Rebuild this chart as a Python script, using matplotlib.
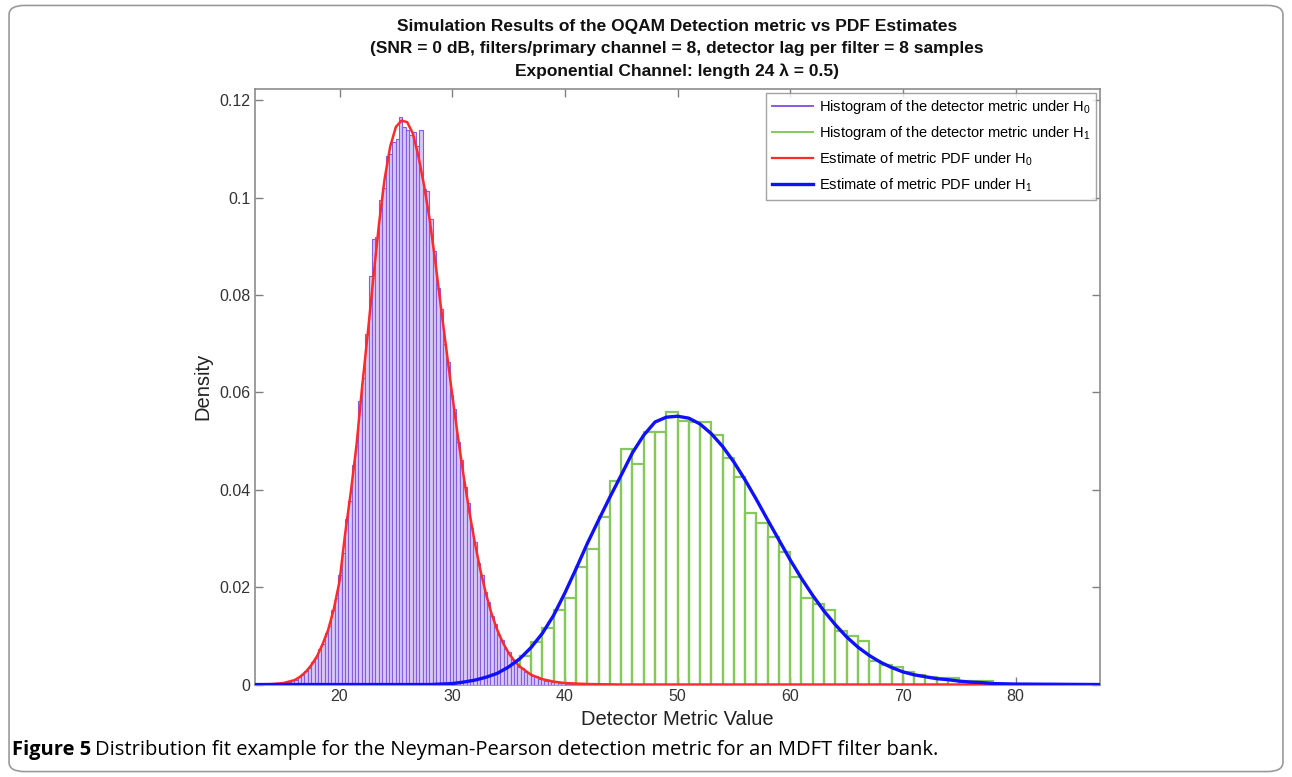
import matplotlib.pyplot as plt
from matplotlib.patches import FancyBboxPatch
from matplotlib.lines import Line2D
import numpy as np

# Histogramme H0 (bins de 0.3)
h0_start, h0_width = 14.78, 0.3
h0_heights = [0.0002, 0.0004, 0.0005, 0.0009, 0.0010, 0.0016, 0.0019, 0.0028, 0.0033, 0.0047,
              0.0054, 0.0072, 0.0083, 0.0106, 0.0121, 0.0154, 0.0178, 0.0224, 0.0270, 0.0340,
              0.0376, 0.0450, 0.0489, 0.0582, 0.0630, 0.0720, 0.0839, 0.0914, 0.0920, 0.0996,
              0.1020, 0.1085, 0.1090, 0.1114, 0.1120, 0.1165, 0.1145, 0.1138, 0.1128, 0.1134,
              0.1105, 0.1138, 0.1017, 0.1013, 0.0955, 0.0890, 0.0815, 0.0772, 0.0700, 0.0662,
              0.0595, 0.0565, 0.0498, 0.0462, 0.0405, 0.0372, 0.0322, 0.0292, 0.0250, 0.0224,
              0.0189, 0.0170, 0.0140, 0.0125, 0.0102, 0.0092, 0.0074, 0.0066, 0.0052, 0.0047,
              0.0037, 0.0034, 0.0026, 0.0024, 0.0018, 0.0017, 0.0012, 0.0011, 0.0008, 0.0008,
              0.0005, 0.0005, 0.0003, 0.0004, 0.0002, 0.0002, 0.0001]

# Histogramme H1 (bins de 1)
h1_start, h1_width = 29, 1.0
h1_heights = [0.0002, 0.0003, 0.0005, 0.0008, 0.0013, 0.0022, 0.0038, 0.0058,
              0.0087, 0.0116, 0.0154, 0.0177, 0.0241, 0.0278, 0.0344, 0.0418,
              0.0483, 0.0452, 0.0518, 0.0518, 0.0560, 0.0541, 0.0539, 0.0539,
              0.0513, 0.0466, 0.0426, 0.0352, 0.0332, 0.0302, 0.0272, 0.0221,
              0.0177, 0.0166, 0.0154, 0.0110, 0.0099, 0.0089, 0.0049, 0.0040,
              0.0036, 0.0026, 0.0019, 0.0016, 0.0014, 0.0014, 0.0008, 0.0008,
              0.0008]

# Estimation de la PDF sous H0
pdf0_x = [12.5, 14.0, 15.0, 16.0, 16.5, 17.0, 17.5, 18.0, 18.5, 19.0, 19.5, 20.0,
          20.5, 21.0, 21.5, 22.0, 22.5, 23.0, 23.5, 24.0, 24.5, 25.0, 25.5, 26.0,
          26.5, 27.0, 27.5, 28.0, 28.5, 29.0, 29.5, 30.0, 30.5, 31.0, 31.5, 32.0,
          32.5, 33.0, 33.5, 34.0, 34.5, 35.0, 35.5, 36.0, 37.0, 38.0, 39.0, 40.0,
          42.0, 45.0, 87.5]
pdf0_y = [0, 0.0001, 0.0003, 0.0009, 0.0016, 0.0026, 0.0040, 0.0058, 0.0083,
          0.0113, 0.0156, 0.0212, 0.0310, 0.0395, 0.0490, 0.0610, 0.0720, 0.0835,
          0.0945, 0.1038, 0.1105, 0.1145, 0.1158, 0.1155, 0.1132, 0.1085, 0.1025,
          0.0955, 0.0868, 0.0775, 0.0685, 0.0595, 0.0510, 0.0430, 0.0358, 0.0292,
          0.0235, 0.0186, 0.0145, 0.0112, 0.0086, 0.0065, 0.0049, 0.0037, 0.0020,
          0.0011, 0.0006, 0.0003, 0.0001, 0, 0]

# Estimation de la PDF sous H1
pdf1_x = [12.5, 28, 30, 31, 32, 33, 34, 35, 36, 37, 38, 39, 40, 41, 42, 43, 44,
          45, 46, 47, 48, 49, 50, 51, 52, 53, 54, 55, 56, 57, 58, 59, 60, 61, 62,
          63, 64, 65, 66, 67, 68, 69, 70, 71, 72, 73, 74, 75, 76, 77, 78, 80, 87.5]
pdf1_y = [0, 0, 0.0002, 0.0005, 0.0009, 0.0015, 0.0023, 0.0036, 0.0053, 0.0076,
          0.0105, 0.0142, 0.0188, 0.0238, 0.0290, 0.0338, 0.0385, 0.0430, 0.0476,
          0.0512, 0.0539, 0.0549, 0.0551, 0.0547, 0.0535, 0.0515, 0.0489, 0.0457,
          0.0420, 0.0380, 0.0338, 0.0297, 0.0256, 0.0218, 0.0183, 0.0151, 0.0123,
          0.0098, 0.0077, 0.0060, 0.0046, 0.0035, 0.0026, 0.0020, 0.0016, 0.0012,
          0.0010, 0.0007, 0.0005, 0.0004, 0.0002, 0.0001, 0]

title_lines = ["Simulation Results of the OQAM Detection metric vs PDF Estimates",
               "(SNR = 0 dB, filters/primary channel = 8, detector lag per filter = 8 samples",
               "Exponential Channel: length 24 \u03bb = 0.5)"]
legend_labels = ["Histogram of the detector metric under H$_0$",
                 "Histogram of the detector metric under H$_1$",
                 "Estimate of metric PDF under H$_0$",
                 "Estimate of metric PDF under H$_1$"]

plt.rcParams['font.family'] = ['Liberation Sans', 'DejaVu Sans']
plt.rcParams['mathtext.fontset'] = 'custom'
plt.rcParams['mathtext.rm'] = 'Liberation Sans'

fig = plt.figure(figsize=(12.92, 7.77), dpi=100)

# Cadre arrondi de la figure
fig.patches.append(FancyBboxPatch((0.007, 0.007), 0.986, 0.986,
                                  boxstyle="round,pad=0,rounding_size=0.012",
                                  transform=fig.transFigure, fill=False,
                                  edgecolor='#9a9a9a', linewidth=1.2))

ax = fig.add_axes([0.1974, 0.119, 0.6540, 0.7665])

h0_edges = h0_start + h0_width * np.arange(len(h0_heights))
h1_edges = h1_start + h1_width * np.arange(len(h1_heights))

ax.bar(h1_edges, h1_heights, width=h1_width, align='edge', facecolor='none',
       edgecolor='#86c95a', linewidth=1.6, zorder=2)
ax.bar(h0_edges, h0_heights, width=h0_width, align='edge', facecolor='#d6c9f6',
       edgecolor='#8a5be0', linewidth=0.8, zorder=3)
ax.plot(pdf0_x, pdf0_y, color='#ff2a2a', linewidth=1.8, zorder=4)
ax.plot(pdf1_x, pdf1_y, color='#1010ff', linewidth=2.4, zorder=5)

ax.set_xlim(12.5, 87.5)
ax.set_ylim(0, 0.1223)
ax.set_xticks([20, 30, 40, 50, 60, 70, 80])
ax.set_yticks([0, 0.02, 0.04, 0.06, 0.08, 0.1, 0.12])
ax.set_yticklabels(['0', '0.02', '0.04', '0.06', '0.08', '0.1', '0.12'])
ax.tick_params(direction='in', top=True, right=True, length=6, width=1,
               color='#808080', labelsize=11.5, labelcolor='#333333')
for s in ax.spines.values():
    s.set_color('#8c8c8c')
    s.set_linewidth(1.2)

ax.set_xlabel("Detector Metric Value", fontsize=14.5, color='#222222', labelpad=4)
ax.set_ylabel("Density", fontsize=14.5, color='#222222', labelpad=5)

for i, line in enumerate(title_lines):
    fig.text(0.524, 0.966 - i * 0.029, line, ha='center', va='center',
             fontsize=12.5, fontweight='bold', color='#111111')

# Légende
handles = [Line2D([], [], color='#8a5be0', linewidth=1.4),
           Line2D([], [], color='#86c95a', linewidth=1.4),
           Line2D([], [], color='#ff2a2a', linewidth=1.6),
           Line2D([], [], color='#1010ff', linewidth=2.4)]
leg = ax.legend(handles, legend_labels, loc='upper right', fontsize=10.5,
                frameon=True, fancybox=False, edgecolor='#8c8c8c',
                handlelength=2.8, handletextpad=0.4, labelspacing=0.55,
                borderaxespad=0.25, borderpad=0.4)
leg.get_frame().set_linewidth(1.0)

fig.text(0.0095, 0.035, "Figure 5", fontsize=14.5, fontweight='bold',
         family=['Open Sans', 'DejaVu Sans'], va='center', ha='left')
fig.text(0.0095 + 0.064, 0.035,
         "Distribution fit example for the Neyman-Pearson detection metric for an MDFT filter bank.",
         fontsize=14.5, family=['Open Sans', 'DejaVu Sans'], va='center', ha='left')

fig.savefig("out.png", dpi=100)
